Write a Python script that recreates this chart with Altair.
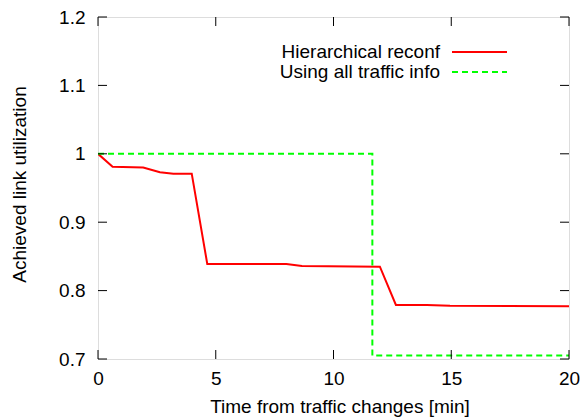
import altair as alt
import pandas as pd

# Series data
red_t = [0.0, 0.62, 1.92, 2.63, 3.2, 3.98, 4.64, 8.0, 8.66, 11.97, 12.65, 13.96, 14.95, 20.0]
red_v = [1.0, 0.981, 0.980, 0.973, 0.971, 0.971, 0.839, 0.839, 0.836, 0.835, 0.779, 0.779, 0.778, 0.777]
green_t = [0.0, 11.65, 11.65, 20.0]
green_v = [1.0, 1.0, 0.705, 0.705]
series_names = ["Hierarchical reconf", "Using all traffic info"]
series_colors = ["#ff0000", "#00ff00"]
x_ticks = [0, 5, 10, 15, 20]
y_ticks = [0.7, 0.8, 0.9, 1.0, 1.1, 1.2]

W, H = 471, 342
FONT = "Liberation Sans"
FS = 19

red = pd.DataFrame({"t": red_t, "v": red_v, "s": series_names[0]})
green = pd.DataFrame({"t": green_t, "v": green_v, "s": series_names[1]})

xs = alt.Scale(domain=[0, 20], nice=False)
ys = alt.Scale(domain=[0.7, 1.2], nice=False, zero=False)

xax = alt.Axis(values=x_ticks, ticks=False, domain=False, grid=False, labelFont=FONT,
               labelFontSize=FS, labelColor="black", labelPadding=10, titleFont=FONT,
               titleFontSize=FS, titleFontWeight="normal", titleColor="black", titlePadding=9,
               titleX=W / 2 + 6, labelFlush=False)
yax = alt.Axis(values=y_ticks, ticks=False, domain=False, grid=False, format="~g", labelFont=FONT,
               labelFontSize=FS, labelColor="black", labelPadding=13, titleFont=FONT,
               titleFontSize=FS, titleFontWeight="normal", titleColor="black", titlePadding=29,
               titleY=H / 2 - 4)

base_x = alt.X("t:Q", scale=xs, axis=xax, title="Time from traffic changes [min]")
base_y = alt.Y("v:Q", scale=ys, axis=yax, title="Achieved link utilization")

red_line = alt.Chart(red).mark_line(color=series_colors[0], strokeWidth=2, clip=True).encode(
    x=base_x, y=base_y)
green_line = alt.Chart(green).mark_line(color=series_colors[1], strokeWidth=2, strokeDash=[6, 4],
                                        clip=True).encode(x="t:Q", y="v:Q")

xt = pd.DataFrame({"t": x_ticks})
yt = pd.DataFrame({"v": y_ticks})
TL = 9
tick_bottom = alt.Chart(xt).mark_rule(color="black", strokeWidth=1).encode(
    x="t:Q", y=alt.value(H), y2=alt.value(H - TL))
tick_top = alt.Chart(xt).mark_rule(color="black", strokeWidth=1).encode(
    x="t:Q", y=alt.value(0), y2=alt.value(TL))
tick_left = alt.Chart(yt).mark_rule(color="black", strokeWidth=1).encode(
    y="v:Q", x=alt.value(0), x2=alt.value(TL))
tick_right = alt.Chart(yt).mark_rule(color="black", strokeWidth=1).encode(
    y="v:Q", x=alt.value(W), x2=alt.value(W - TL))

# Legend (text left, sample line right)
leg_text1 = alt.Chart(pd.DataFrame({"s": [series_names[0]]})).mark_text(
    align="right", baseline="middle", font=FONT, fontSize=FS, color="black").encode(
    x=alt.value(342), y=alt.value(35), text="s:N")
leg_text2 = alt.Chart(pd.DataFrame({"s": [series_names[1]]})).mark_text(
    align="right", baseline="middle", font=FONT, fontSize=FS, color="black").encode(
    x=alt.value(342), y=alt.value(55), text="s:N")
leg_red = alt.Chart(pd.DataFrame({"s": [series_names[0]]})).mark_rule(
    color=series_colors[0], strokeWidth=2).encode(x=alt.value(354), x2=alt.value(409), y=alt.value(35))
leg_green = alt.Chart(pd.DataFrame({"s": [series_names[1]]})).mark_rule(
    color=series_colors[1], strokeWidth=2, strokeDash=[6, 4]).encode(
    x=alt.value(354), x2=alt.value(409), y=alt.value(55))

chart = alt.layer(
    red_line, green_line, tick_bottom, tick_top, tick_left, tick_right,
    leg_text1, leg_text2, leg_red, leg_green
).properties(
    width=W, height=H,
    padding={"left": 98, "top": 17, "right": 14, "bottom": 60},
    autosize=alt.AutoSizeParams(type="none"),
).configure_view(stroke="black", strokeWidth=1.2).configure(background="white")

chart.save("out.html", embed_options={"renderer": "svg", "actions": False})
